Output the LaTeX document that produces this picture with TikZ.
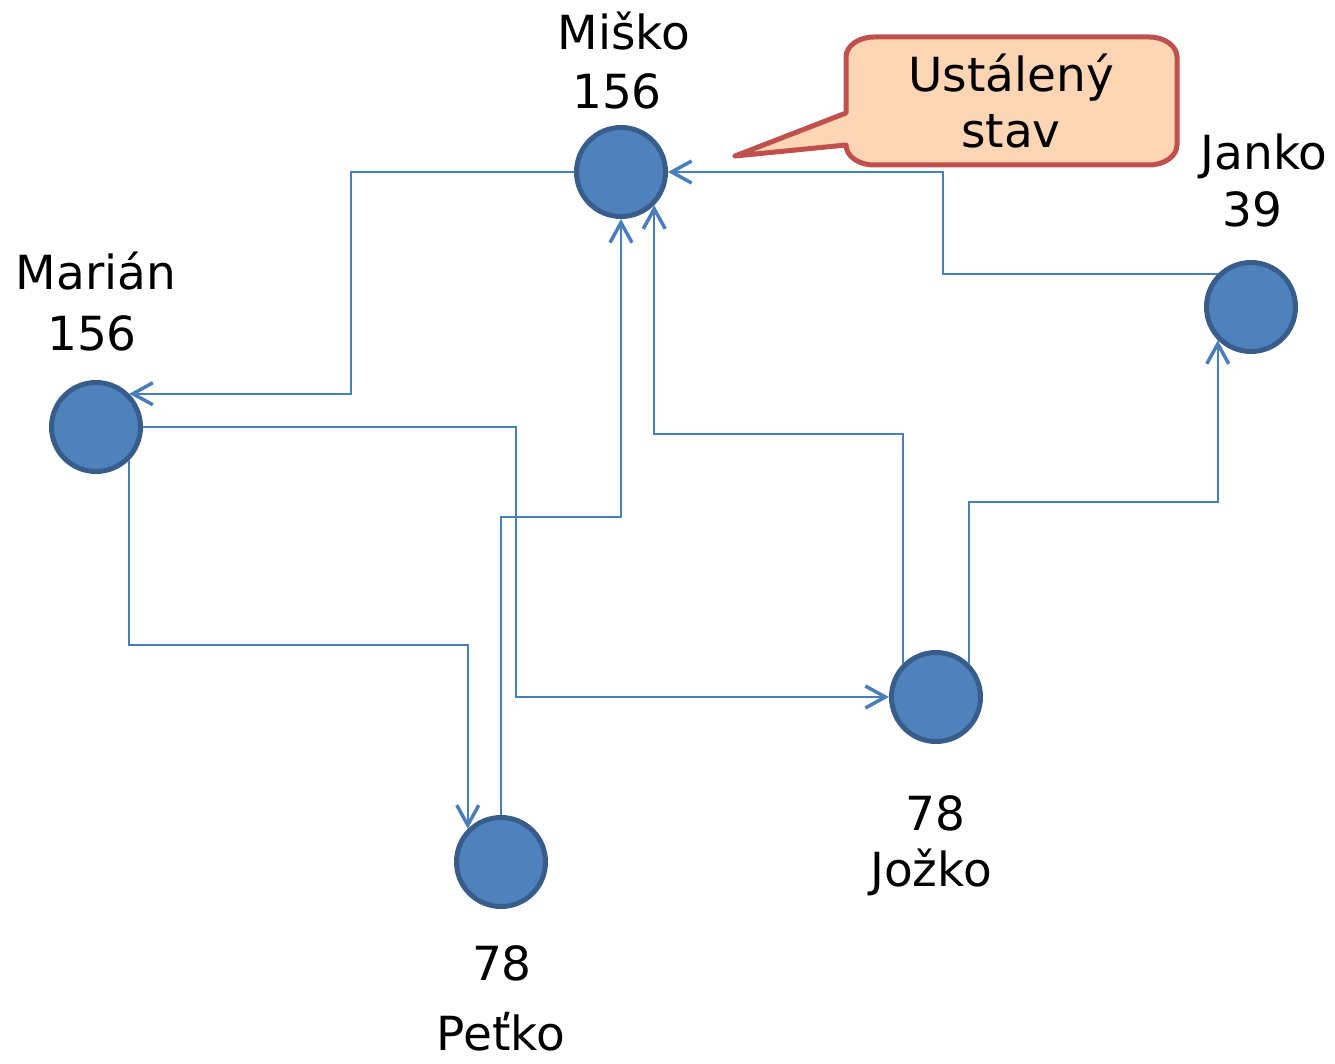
\documentclass[tikz,border=0pt]{standalone}
\usepackage{fontspec}
\setmainfont{DejaVu Sans}
\usetikzlibrary{arrows.meta}
\definecolor{nodefill}{HTML}{4F81BD}
\definecolor{nodeborder}{HTML}{385D8A}
\definecolor{linkblue}{HTML}{4A7EBB}
\definecolor{calloutfill}{HTML}{FCD5B5}
\definecolor{calloutborder}{HTML}{C0504D}
\begin{document}
\begin{tikzpicture}[x=1pt,y=-1pt,
  person/.style={circle,draw=nodeborder,fill=nodefill,line width=5pt,minimum size=89pt,inner sep=0pt},
  lbl/.style={anchor=base,inner sep=0pt,font=\fontsize{47}{56}\selectfont},
  link/.style={draw=linkblue,line width=2.2pt,-{Straight Barb[length=20pt,width=22pt,line width=3.5pt]}},
  callout/.style={draw=calloutborder,fill=calloutfill,line width=5pt,line join=round}]
\useasboundingbox (0,0) rectangle (1335,1064);

% callout
\draw[callout] (846,145) arc[start angle=180,end angle=90,x radius=28,y radius=20]
  -- (1149,165) arc[start angle=90,end angle=0,x radius=28,y radius=20]
  -- (1177,57) arc[start angle=0,end angle=-90,x radius=28,y radius=20]
  -- (874,37) arc[start angle=-90,end angle=-180,x radius=28,y radius=20]
  -- (846,113) -- (735,156) -- cycle;
\node[lbl] (c1) at (1011,92) {Ustálený};
\node[lbl] (c2) at (1011,148) {stav};

% nodes
\node[person] (misko) at (621,172) {};
\node[person] (marian) at (96,427) {};
\node[person] (janko) at (1251,307) {};
\node[person] (jozko) at (936,697) {};
\node[person] (petko) at (501,862) {};

% labels
\node[lbl] (l1a) at (624,50) {Miško};
\node[lbl] (l1b) at (617,109) {156};
\node[lbl] (l2a) at (96,290) {Marián};
\node[lbl] (l2b) at (92,350) {156};
\node[lbl] (l3a) at (1264,170) {Janko};
\node[lbl] (l3b) at (1252,227) {39};
\node[lbl] (l4a) at (935,830) {78};
\node[lbl] (l4b) at (931,886) {Jožko};
\node[lbl] (l5a) at (502,980) {78};
\node[lbl] (l5b) at (501,1050) {Peťko};

% connectors
\draw[link] (misko.west) -- ++(-223,0) |- (marian.45);
\draw[link] (marian.east) -- ++(373,0) |- (jozko.west);
\draw[link] (marian.-45) -- ++(0,185) -| (petko.135);
\draw[link] (petko.north) -- ++(0,-298) -| (misko.south);
\draw[link] (jozko.135) -- ++(0,-230) -| (misko.-45);
\draw[link] (janko.135) -- ++(-275,0) |- (misko.east);
\draw[link] (jozko.45) -- ++(0,-162) -| (janko.-135);
\end{tikzpicture}
\end{document}
